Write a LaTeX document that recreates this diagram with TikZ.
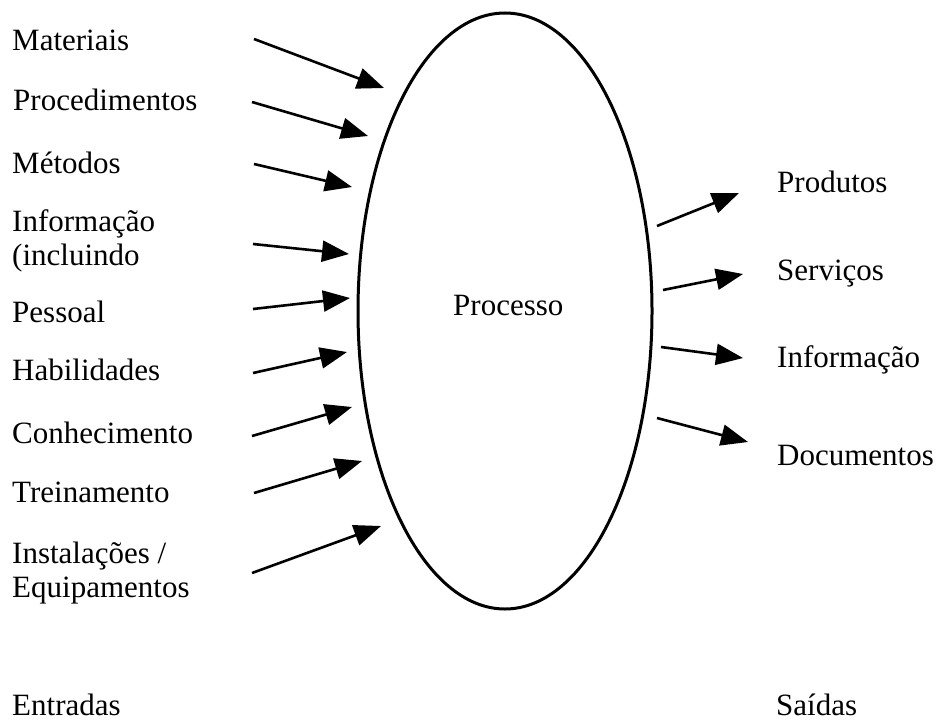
\documentclass[tikz,border=0pt]{standalone}
\usepackage{fontspec}
\setmainfont{Liberation Serif}
\usetikzlibrary{arrows.meta,shapes.geometric}
\begin{document}
\begin{tikzpicture}[x=1pt,y=-1pt,
  lbl/.style={anchor=base west,inner sep=0pt,font=\fontsize{31}{34}\selectfont,align=left},
  flow/.style={line width=2.6pt,-{Triangle[length=27pt,width=21pt]}},
  proc/.style={draw,line width=3pt,ellipse,minimum width=294pt,minimum height=596pt,inner sep=0pt}]
\useasboundingbox (0,0) rectangle (941,725);

% process body
\node[proc] (proc) at (505,311) {};
\node[lbl] (ptxt) at (453,315) {Processo};

% inputs (two-line labels are placed by their last baseline)
\node[lbl] (i1) at (12,51) {Materiais};
\node[lbl] (i2) at (13,110) {Procedimentos};
\node[lbl] (i3) at (12,173) {Métodos};
\node[lbl] (i4) at (12,265) {Informação\\(incluindo};
\node[lbl] (i5) at (12,322) {Pessoal};
\node[lbl] (i6) at (12,380) {Habilidades};
\node[lbl] (i7) at (12,443) {Conhecimento};
\node[lbl] (i8) at (12,502) {Treinamento};
\node[lbl] (i9) at (12,597) {Instalações /\\Equipamentos};

% outputs
\node[lbl] (o1) at (777,192) {Produtos};
\node[lbl] (o2) at (777,280) {Serviços};
\node[lbl] (o3) at (777,367) {Informação};
\node[lbl] (o4) at (777,465) {Documentos};

% group captions
\node[lbl] (ent) at (12,715) {Entradas};
\node[lbl] (sai) at (776,715) {Saídas};

% arrow ends
\coordinate (a1) at (254,39);  \coordinate (b1) at (384,88);
\coordinate (a2) at (252,102); \coordinate (b2) at (368,136);
\coordinate (a3) at (254,164); \coordinate (b3) at (352,187);
\coordinate (a4) at (253,244); \coordinate (b4) at (349,254);
\coordinate (a5) at (253,309); \coordinate (b5) at (350,298);
\coordinate (a6) at (253,373); \coordinate (b6) at (347,352);
\coordinate (a7) at (252,436); \coordinate (b7) at (352,407);
\coordinate (a8) at (254,493); \coordinate (b8) at (362,461);
\coordinate (a9) at (252,573); \coordinate (b9) at (381,526);

\coordinate (c1) at (657,226); \coordinate (d1) at (739,193);
\coordinate (c2) at (663,290); \coordinate (d2) at (743,274);
\coordinate (c3) at (661,347); \coordinate (d3) at (743,358);
\coordinate (c4) at (657,418); \coordinate (d4) at (748,442);

\foreach \k in {1,...,9} \draw[flow] (a\k) -- (b\k);
\foreach \k in {1,...,4} \draw[flow] (c\k) -- (d\k);
\end{tikzpicture}
\end{document}
